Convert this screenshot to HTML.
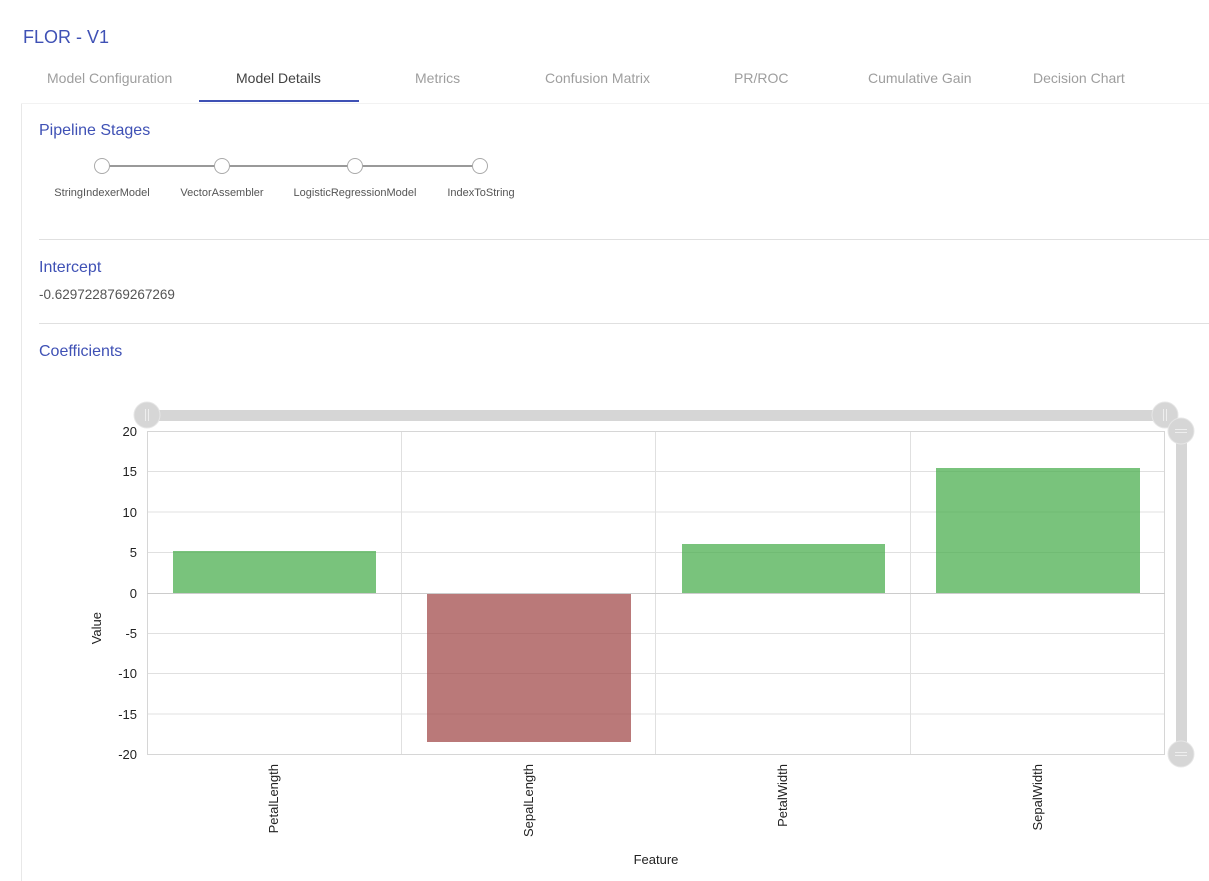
<!DOCTYPE html>
<html><head><meta charset="utf-8"><style>
body{margin:0;width:1209px;height:881px;background:#fff;font-family:"Liberation Sans",sans-serif;overflow:hidden;position:relative}
.a{position:absolute;white-space:nowrap}
</style></head><body>
<div class="a" style="left:23px;top:27px;font-size:18px;color:#3f51b5">FLOR - V1</div>
<div class="a" style="left:47px;top:70px;font-size:14px;color:#9e9e9e">Model Configuration</div>
<div class="a" style="left:236px;top:70px;font-size:14px;color:#424242">Model Details</div>
<div class="a" style="left:415px;top:70px;font-size:14px;color:#9e9e9e">Metrics</div>
<div class="a" style="left:545px;top:70px;font-size:14px;color:#9e9e9e">Confusion Matrix</div>
<div class="a" style="left:734px;top:70px;font-size:14px;color:#9e9e9e">PR/ROC</div>
<div class="a" style="left:868px;top:70px;font-size:14px;color:#9e9e9e">Cumulative Gain</div>
<div class="a" style="left:1033px;top:70px;font-size:14px;color:#9e9e9e">Decision Chart</div>
<div class="a" style="left:199px;top:100px;width:160px;height:2px;background:#3f51b5"></div>
<div class="a" style="left:21px;top:103px;width:1px;height:778px;background:#e8e8e8"></div>
<div class="a" style="left:21px;top:103px;width:1188px;height:1px;background:#f2f2f2"></div>
<div class="a" style="left:39px;top:122px;font-size:16px;color:#3f51b5">Pipeline Stages</div>
<div class="a" style="left:39px;top:259px;font-size:16px;color:#3f51b5">Intercept</div>
<div class="a" style="left:39px;top:287px;font-size:13.5px;color:#555">-0.6297228769267269</div>
<div class="a" style="left:39px;top:343px;font-size:16px;color:#3f51b5">Coefficients</div>
<div class="a" style="left:39px;top:239px;width:1170px;height:1px;background:#e0e0e0"></div>
<div class="a" style="left:39px;top:323px;width:1170px;height:1px;background:#e0e0e0"></div>
<svg class="a" style="left:0;top:0" width="1209" height="881">
<g font-family="Liberation Sans,sans-serif" font-size="11" fill="#555">
<line x1="102" y1="166" x2="480" y2="166" stroke="#999" stroke-width="2"/>
<circle cx="102" cy="166" r="7.5" fill="#fff" stroke="#aaa"/>
<circle cx="222" cy="166" r="7.5" fill="#fff" stroke="#aaa"/>
<circle cx="355" cy="166" r="7.5" fill="#fff" stroke="#aaa"/>
<circle cx="480" cy="166" r="7.5" fill="#fff" stroke="#aaa"/>
<text x="102" y="196" text-anchor="middle">StringIndexerModel</text>
<text x="222" y="196" text-anchor="middle">VectorAssembler</text>
<text x="355" y="196" text-anchor="middle">LogisticRegressionModel</text>
<text x="481" y="196" text-anchor="middle">IndexToString</text>
</g>
<g stroke="#e0e0e0" stroke-width="1">
<line x1="147" y1="471.5" x2="1165" y2="471.5"/><line x1="147" y1="512" x2="1165" y2="512"/>
<line x1="147" y1="552.5" x2="1165" y2="552.5"/><line x1="147" y1="633.5" x2="1165" y2="633.5"/>
<line x1="147" y1="673.5" x2="1165" y2="673.5"/><line x1="147" y1="714" x2="1165" y2="714"/>
<line x1="401.5" y1="431" x2="401.5" y2="754"/><line x1="655.5" y1="431" x2="655.5" y2="754"/><line x1="910.5" y1="431" x2="910.5" y2="754"/>
</g>
<rect x="147.5" y="431.5" width="1017" height="323" fill="none" stroke="#d6d6d6"/>
<g fill="#4caf50" fill-opacity="0.75">
<rect x="173" y="551" width="203" height="42"/>
<rect x="682" y="544" width="203" height="49"/>
<rect x="936" y="468" width="204" height="125"/>
</g>
<rect x="427" y="593" width="204" height="149" fill="#a04545" fill-opacity="0.72"/>
<line x1="147" y1="593.5" x2="1165" y2="593.5" stroke="#ccc"/>
<g font-family="Liberation Sans,sans-serif" font-size="13" fill="#222" text-anchor="end">
<text x="137" y="436">20</text><text x="137" y="476">15</text><text x="137" y="517">10</text>
<text x="137" y="557">5</text><text x="137" y="598">0</text><text x="137" y="638">-5</text>
<text x="137" y="678">-10</text><text x="137" y="719">-15</text><text x="137" y="759">-20</text>
</g>
<g font-family="Liberation Sans,sans-serif" font-size="13" fill="#222" text-anchor="end">
<text transform="translate(278,764) rotate(-90)">PetalLength</text>
<text transform="translate(533,764) rotate(-90)">SepalLength</text>
<text transform="translate(787,764) rotate(-90)">PetalWidth</text>
<text transform="translate(1042,764) rotate(-90)">SepalWidth</text>
<text transform="translate(101,612) rotate(-90)">Value</text>
<text x="656" y="864" text-anchor="middle">Feature</text>
</g>
<rect x="147" y="410" width="1018" height="11" fill="#d6d6d6"/>
<circle cx="147" cy="415" r="13" fill="#d6d6d6" stroke="#e6e6e6"/>
<circle cx="1165" cy="415" r="13" fill="#d6d6d6" stroke="#e6e6e6"/>
<path d="M145.5 409v12M148.5 409v12M1163.5 409v12M1166.5 409v12" stroke="#eee"/>
<rect x="1176" y="431" width="11" height="323" fill="#d6d6d6"/>
<circle cx="1181" cy="431" r="13" fill="#d6d6d6" stroke="#e6e6e6"/>
<circle cx="1181" cy="754" r="13" fill="#d6d6d6" stroke="#e6e6e6"/>
<path d="M1175 429.5h12M1175 432.5h12M1175 752.5h12M1175 755.5h12" stroke="#eee"/>
</svg>
</body></html>
